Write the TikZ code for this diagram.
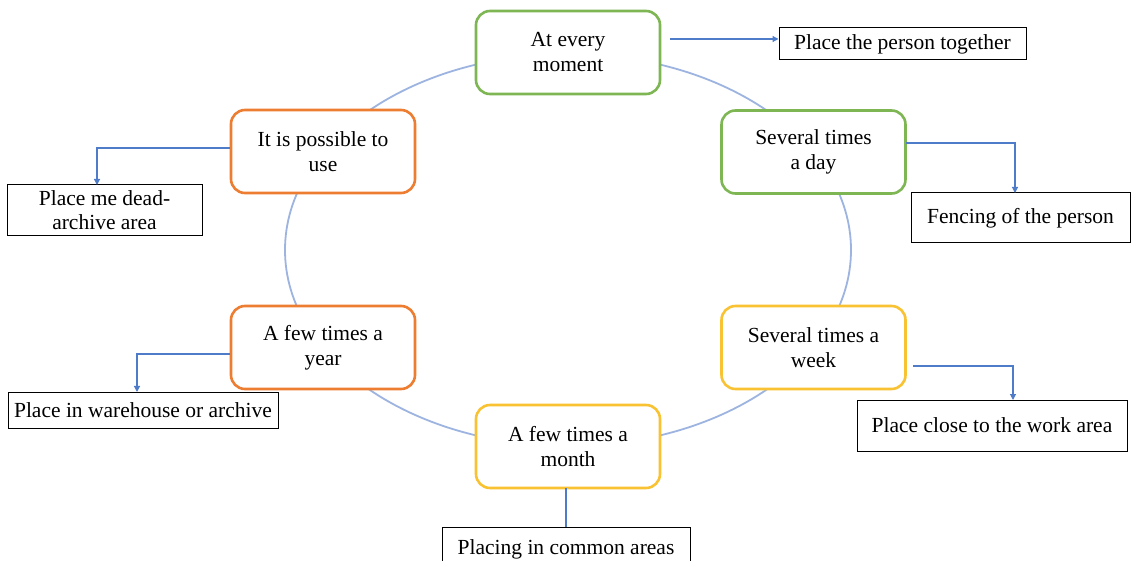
\documentclass[tikz,border=0pt]{standalone}
\usepackage{fontspec}
\setmainfont{Liberation Serif}
\usetikzlibrary{arrows.meta}
\definecolor{cgreen}{HTML}{7DB653}
\definecolor{corange}{HTML}{ED7D31}
\definecolor{cyellow}{HTML}{F9C232}
\definecolor{cring}{HTML}{9DB4E0}
\definecolor{carrow}{HTML}{4F7CC9}
\begin{document}
\begin{tikzpicture}[x=1pt,y=-1pt,
  freq/.style={draw, line width=2.6pt, rounded corners=14pt, fill=white,
    minimum width=184pt, minimum height=83pt, align=center,
    font=\fontsize{21.5}{25}\selectfont, inner sep=0pt},
  place/.style={draw=black, line width=1pt, fill=white, align=center,
    font=\fontsize{21.5}{24}\selectfont, inner sep=0pt},
  link/.style={draw=carrow, line width=1.2pt, -{Triangle[length=6pt,width=6pt]}},
  plainlink/.style={draw=carrow, line width=1.2pt}]
\useasboundingbox (0,0) rectangle (1133,561);
\fill[white] (0,0) rectangle (1133,561);
% ring
\draw[cring, line width=1.8pt] (568,250) ellipse [x radius=283, y radius=196];
% frequency boxes
\node[freq, draw=cgreen] (moment) at (568,52.5) {At every\\moment};
\node[freq, draw=cgreen] (day) at (813.5,152) {Several times\\a day};
\node[freq, draw=cyellow] (week) at (813.5,347.5) {Several times a\\week};
\node[freq, draw=cyellow] (month) at (568,446.5) {A few times a\\month};
\node[freq, draw=corange] (year) at (323,347.5) {A few times a\\year};
\node[freq, draw=corange] (use) at (323,151.5) {It is possible to\\use};
% placement boxes
\node[place, minimum width=247pt, minimum height=32pt] (together) at (902.5,44) {Place the person together};
\node[place, minimum width=219pt, minimum height=50pt] (fencing) at (1020.5,218) {Fencing of the person};
\node[place, minimum width=195pt, minimum height=51pt] (dead) at (104.5,210.5) {Place me dead-\\archive area};
\node[place, minimum width=270pt, minimum height=36pt] (warehouse) at (143,410) {Place in warehouse or archive};
\node[place, minimum width=270pt, minimum height=51pt] (close) at (992,425.5) {Place close to the work area};
\node[place, minimum width=248pt, minimum height=44pt] (common) at (566,549) {Placing in common areas};
% connectors
\coordinate (m1) at (670,39);
\draw[link] (m1) -- (m1 -| together.west);
\coordinate (d1) at (906,143);
\draw[link] (d1) -- (1015,143) -- (1015,193);
\coordinate (w1) at (913,366);
\draw[link] (w1) -- (1013,366) -- (1013,400);
\draw[link] (use.west |- 0,148) -- (97,148) -- (97,185);
\draw[link] (year.west |- 0,354) -- (137,354) -- (137,392);
\draw[plainlink] (566,488) -- (common.north);
\end{tikzpicture}
\end{document}
